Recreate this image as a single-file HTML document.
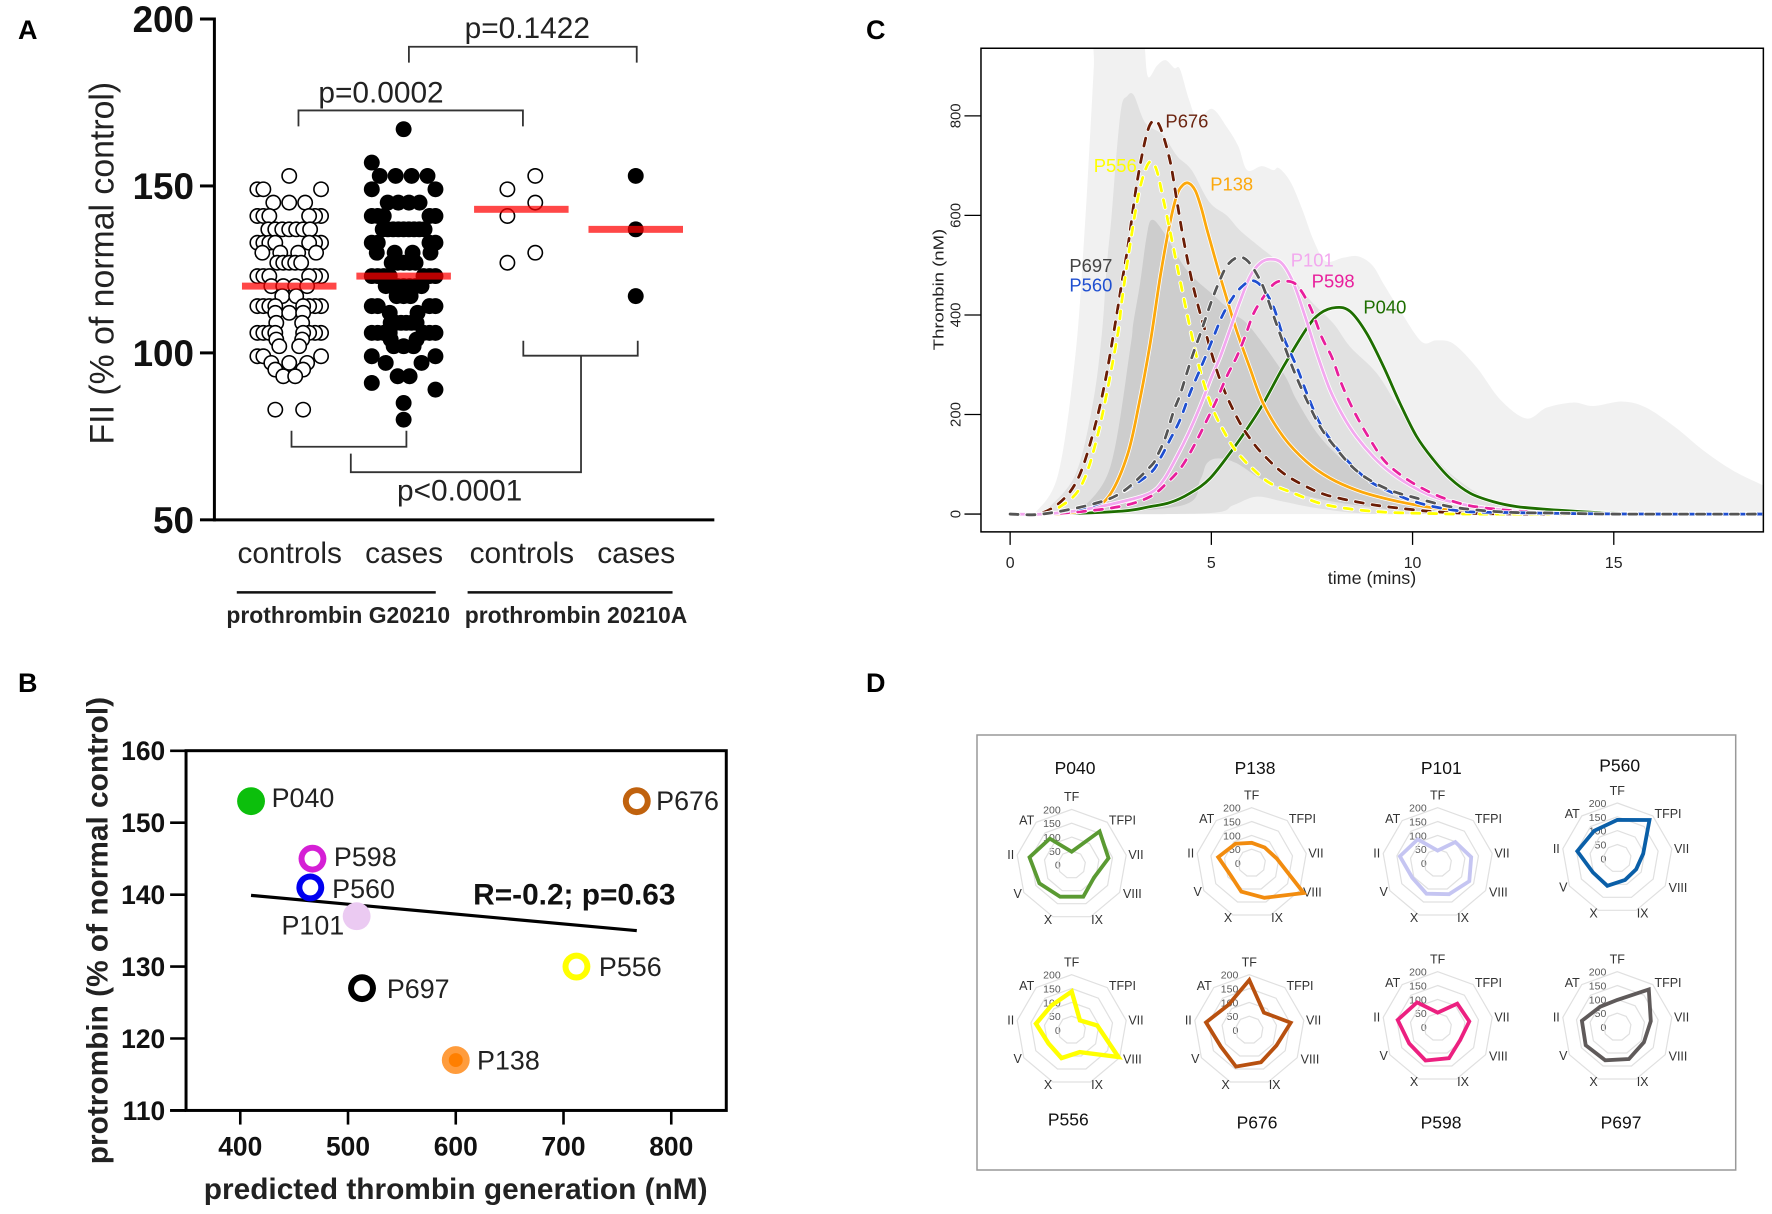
<!DOCTYPE html>
<html lang="en">
<head>
<meta charset="utf-8">
<title>Prothrombin and thrombin generation figure</title>
<style>
html,body{margin:0;padding:0;background:#fff;}
svg{display:block;font-family:"Liberation Sans",sans-serif;}
</style>
</head>
<body>
<svg id="figure" xmlns="http://www.w3.org/2000/svg" width="1772" height="1214" viewBox="0 0 1772 1214">
<rect width="1772" height="1214" fill="#fff"/>
<text x="18" y="39" font-size="27" font-weight="700">A</text>
<text x="18" y="692" font-size="27" font-weight="700">B</text>
<text x="866" y="39" font-size="27" font-weight="700">C</text>
<text x="866" y="692" font-size="27" font-weight="700">D</text>

<g id="panelA" transform="scale(0.9949)">
  <text transform="translate(114,264.5) rotate(-90)" text-anchor="middle" font-size="34" fill="#222">FII (% of normal control)</text>
  <g fill="none" stroke="#333" stroke-width="1.8">
    <path d="M411 63V47H640V63"/>
    <path d="M300 127V111H525.6V127"/>
    <path d="M526 342.5V357.5H641V342.5"/>
    <path d="M584 357.5V474.6H352.6V456"/>
    <path d="M293 433V449H408.5V433"/>
  </g>
  <text x="530" y="38" text-anchor="middle" font-size="30" fill="#222">p=0.1422</text>
  <text x="383" y="103" text-anchor="middle" font-size="30" fill="#222">p=0.0002</text>
  <text x="462" y="503" text-anchor="middle" font-size="30" fill="#222">p&lt;0.0001</text>
  <line x1="238" y1="595.4" x2="438" y2="595.4" stroke="#111" stroke-width="2.6"/>
  <line x1="470" y1="595.4" x2="676" y2="595.4" stroke="#111" stroke-width="2.6"/>
  <text x="340" y="626" text-anchor="middle" font-size="23" font-weight="700" fill="#222">prothrombin G20210</text>
  <text x="579" y="626" text-anchor="middle" font-size="23" font-weight="700" fill="#222">prothrombin 20210A</text>
</g>

<g id="panelB" transform="translate(0,650) scale(0.9949) translate(0,-650)">
  <text transform="translate(108,932) rotate(-90)" text-anchor="middle" font-size="30" font-weight="700" fill="#222">protrombin (% of normal control)</text>
  <text x="458" y="1202" text-anchor="middle" font-size="30" font-weight="700" fill="#222">predicted thrombin generation (nM)</text>
  <text x="475.6" y="906" font-size="30" font-weight="700" fill="#111">R=-0.2; p=0.63</text>
</g>

<g id="panelC" transform="translate(860,0) scale(0.9949) translate(-860,0)">
  <text transform="translate(944,291) rotate(-90)" text-anchor="middle" font-size="15" textLength="122" lengthAdjust="spacingAndGlyphs" fill="#222">Thrombin (nM)</text>
  <text x="1374.6" y="587" text-anchor="middle" font-size="18" fill="#222">time (mins)</text>
</g>

<g id="panelD">
  <rect x="977" y="735" width="758.7" height="435" fill="#fff" stroke="#999" stroke-width="1.5"/>
</g>
</svg>

<script>
/* ---------- Panel A data ---------- */
const swarmCategories = ['controls', 'cases', 'controls', 'cases'];
const controlsG20210 = [153,149,149,149,145,145,145,141,141,141,141,141,141,137,137,137,137,137,137,137,133,133,133,133,133,133,133,130,130,130,130,127,127,127,127,127,123,123,123,123,123,123,120,120,120,120,117,117,114,114,114,114,114,114,114,114,112,112,112,109,109,106,106,106,106,106,106,106,106,104,104,102,102,99,99,99,97,97,97,95,95,93,93,83,83];
const casesG20210 = [167,157,153,153,153,153,149,149,145,145,145,145,141,141,141,141,141,137,137,137,137,137,137,137,137,137,133,133,133,133,130,130,130,130,127,127,127,127,127,123,123,123,123,123,123,123,120,120,120,120,120,120,120,117,117,117,114,114,114,114,112,112,109,109,109,109,109,109,106,106,106,106,106,106,106,104,104,102,102,102,99,99,97,97,93,93,91,89,85,80];
const controls20210A = [153,149,145,141,130,127];
const cases20210A = [153,137,117];
const groupMedians = [120,123,143,137];
const yTicksA = [50,100,150,200];

/* ---------- Panel B data ---------- */
const patientNames = ['P040','P676','P598','P560','P101','P556','P697','P138'];
const predictedThrombin = [410,768,467,465,508,712,513,600];
const prothrombinLevel = [153,153,145,141,137,130,127,117];
const trendThrombin = [410,768];
const trendProthrombin = [139.9,135];
const yTicksB = [110,120,130,140,150,160];
const xTicksB = [400,500,600,700,800];

/* ---------- Panel C data ---------- */
const xTicksC = [0,5,10,15];
const yTicksC = [0,200,400,600,800];
const outerBandTime = [0.6,1.19,1.62,1.84,1.98,2.08,2.14,3.31,3.35,3.43,3.65,3.86,4.08,4.22,4.44,4.66,5.02,5.38,5.67,5.89,6.25,6.54,6.68,6.97,7.26,7.55,7.84,8.27,8.64,9.0,9.29,9.72,10.23,10.59,11.02,11.6,12.18,12.83,13.34,13.99,14.49,15.22,15.8,16.52,17.24,17.97,18.73];
const outerBandUpper = [0,79,318,556,750,900,1000,1000,936,878,901,912,896,894,834,794,814,778,739,691,699,691,695,667,612,548,508,515,518,500,461,405,346,349,342,294,230,192,214,224,217,226,214,175,127,87,57];
const midBandUpperTime = [0.9,1.62,2.05,2.28,2.4,2.52,2.65,2.77,2.9,3.07,3.36,3.79,4.15,4.51,4.95,5.38,5.71,6.2,6.79,7.45,8.03,8.45,9.11,9.69,10.35,10.93,11.76,12.6,13.63];
const midBandUpper = [8,79,220,363,497,598,731,820,839,842,786,762,719,691,627,600,570,537,497,430,383,336,283,209,135,82,35,8,2];
const midBandLowerTime = [2,4.95,5.55,6.13,6.79,7.62,8.86,10.73,13.63];
const midBandLower = [0,2,18,35,25,12,1,0,0];
const innerBandUpperTime = [1.76,2.49,2.98,3.06,3.23,3.39,3.52,3.81,4.39,5.05,5.55,5.96,6.79,7.12,7.7,8.45,9.28,10.1,10.73];
const innerBandUpper = [8,95,330,383,464,557,591,567,490,440,403,376,283,229,155,95,45,22,8];
const innerBandLowerTime = [1.76,4.3,4.72,4.89,5.18,5.63,6.29,7.12,8.03,9.28,10.1,10.73];
const innerBandLower = [0,18,68,102,112,102,68,42,25,11,5,8];

const timeP040 = [0,1,2.78,3.48,3.97,4.47,4.97,5.55,5.92,6.29,6.79,7.37,7.7,8.1,8.45,8.86,9.28,9.69,10.1,10.52,10.93,11.43,12.0,12.59,13.42,14.93,17,19];
const thrombinP040 = [0,0,6,15,23,42,72,132,175,222,296,373,403,415,407,363,296,222,156,109,72,42,25,15,9,2,0,0];
const timeP138 = [0,1.3,2.05,2.49,2.92,3.2,3.48,3.73,3.97,4.14,4.28,4.43,4.6,4.75,4.89,5.07,5.26,5.45,5.63,5.96,6.29,6.79,7.37,7.95,8.61,9.28,10.1,10.93,11.76,13.5,19];
const thrombinP138 = [0,1,12,40,120,220,343,477,584,640,660,665,650,615,572,520,466,415,368,293,222,155,105,72,48,32,18,8,3,0,0];
const timeP101 = [0,0.8,1.76,2.78,3.48,3.81,4.14,4.43,4.72,5.01,5.22,5.46,5.71,5.96,6.21,6.46,6.75,7.04,7.33,7.62,7.95,8.28,8.61,9.03,9.44,9.94,10.52,11.35,12.18,13.25,15,19];
const thrombinP101 = [0,0,8,25,42,68,115,162,216,276,316,370,427,477,504,512,504,464,397,323,249,196,155,115,85,58,35,18,9,1,0,0];
const timeP676 = [0,0.7,1.26,1.69,2.05,2.35,2.61,2.77,2.94,3.15,3.39,3.56,3.73,3.97,4.14,4.31,4.55,4.84,5.22,5.67,6.05,6.38,6.79,7.29,7.87,8.78,9.44,10.52,11.76,14,19];
const thrombinP676 = [0,0,25,72,159,262,382,462,545,665,762,790,777,711,631,551,457,370,269,189,142,112,82,58,38,22,14,5,1,0,0];
const timeP556 = [0,0.8,1.19,1.76,2.2,2.65,2.77,2.94,3.15,3.31,3.48,3.64,3.81,3.97,4.26,4.51,4.72,5.01,5.34,5.63,6.05,6.46,7.04,7.87,9.1,10.52,12,19];
const thrombinP556 = [0,0,12,56,167,350,425,520,625,680,708,691,631,570,455,360,289,216,162,125,89,62,42,18,5,1,0,0];
const timeP598 = [0,0.8,1.76,2.78,3.48,3.89,4.26,4.6,4.89,5.13,5.38,5.63,5.84,6.05,6.33,6.58,6.83,7.12,7.45,7.74,7.99,8.2,8.41,8.66,8.95,9.28,9.65,10.1,10.68,11.35,12.18,13.25,15,19];
const thrombinP598 = [0,0,5,16,35,62,95,142,189,229,276,316,357,403,440,464,468,460,417,356,316,269,229,189,149,109,82,58,35,18,9,3,0,0];
const timeP560 = [0,0.8,2.05,2.78,3.48,3.73,3.97,4.22,4.47,4.68,4.89,5.09,5.3,5.55,5.76,6.0,6.25,6.54,6.79,7.12,7.37,7.7,8.12,8.53,8.95,9.44,9.94,10.52,11.35,12.47,14,16,19];
const thrombinP560 = [0,0,17,44,82,112,149,189,243,283,323,363,403,437,457,469,457,417,356,296,243,182,132,95,65,45,28,15,5,3,1,0,0];
const timeP697 = [0,0.8,2.05,2.78,3.48,3.64,3.85,4.06,4.22,4.39,4.55,4.76,4.97,5.18,5.4,5.67,5.92,6.21,6.38,6.67,7.04,7.37,7.7,8.03,8.45,8.86,9.44,10.1,10.93,11.76,12.59,13.63,15,19];
const thrombinP697 = [0,0,20,44,95,115,152,206,239,283,323,370,420,464,500,516,507,470,437,370,290,229,176,139,99,72,48,32,15,7,3,2,0,0];

/* ---------- Panel D data (clockwise from TF) ---------- */
const radarAxes = ['TF','TFPI','VII','VIII','IX','X','V','II','AT'];
const radarScale = [0,50,100,150,200];
const radarP040 = [47,157,135,93,123,123,135,155,123];
const radarP138 = [73,73,92,217,134,110,88,123,91];
const radarP101 = [45,99,123,132,120,118,106,139,112];
const radarP560 = [139,181,95,79,83,106,102,147,130];
const radarP556 = [139,46,94,195,85,108,97,131,115];
const radarP676 = [181,82,152,113,124,141,119,159,118];
const radarP598 = [52,110,116,94,120,129,119,147,116];
const radarP697 = [98,177,123,111,123,128,132,130,96];

/* ---------- helpers ---------- */
const NS = 'http://www.w3.org/2000/svg';
function mk(tag, attrs, parent, text) {
  const el = document.createElementNS(NS, tag);
  for (const k in attrs) el.setAttribute(k, attrs[k]);
  if (text !== undefined) el.textContent = text;
  parent.appendChild(el);
  return el;
}
function smoothPath(pts) {
  let d = 'M' + pts[0][0].toFixed(2) + ' ' + pts[0][1].toFixed(2);
  for (let i = 0; i < pts.length - 1; i++) {
    const p0 = pts[Math.max(0, i - 1)], p1 = pts[i], p2 = pts[i + 1], p3 = pts[Math.min(pts.length - 1, i + 2)];
    const c1x = p1[0] + (p2[0] - p0[0]) / 6, c1y = p1[1] + (p2[1] - p0[1]) / 6;
    const c2x = p2[0] - (p3[0] - p1[0]) / 6, c2y = p2[1] - (p3[1] - p1[1]) / 6;
    d += 'C' + c1x.toFixed(2) + ' ' + c1y.toFixed(2) + ' ' + c2x.toFixed(2) + ' ' + c2y.toFixed(2) + ' ' + p2[0].toFixed(2) + ' ' + p2[1].toFixed(2);
  }
  return d;
}

/* ---------- Panel A ---------- */
(function () {
  const g = document.getElementById('panelA');
  const yA = v => 522.5 - (v - 50) * 3.356;
  const centers = [290.7, 405.7, 524, 639];
  const wideRows = new Set([157,149,141,133,123,114,106,99,91,89]);
  const evenHalf = {153:24,145:16,137:21,130:27,127:12,120:18,117:7,112:14,109:13,104:13,102:10,97:18,95:14,93:6,83:14};
  function swarm(values) {
    const out = [];
    const rows = [...new Set(values)].sort((a, b) => b - a);
    rows.forEach(v => {
      const n = values.filter(x => x === v).length;
      for (let i = 0; i < n; i++) {
        let dx;
        if (wideRows.has(v)) {
          if (n === 1) dx = v % 3 === 1 ? -32 : 32;
          else dx = (i % 2 ? 1 : -1) * (32 - Math.floor(i / 2) * 6);
        } else {
          const half = evenHalf[v] || 0;
          dx = n === 1 ? 0 : -half + 2 * half * i / (n - 1);
        }
        out.push([v, dx]);
      }
    });
    return out;
  }
  function alternate(values) {
    return [...values].sort((a, b) => b - a).map((v, i) => [v, i % 2 ? -14 : 14]);
  }
  const groups = [
    swarm(controlsG20210),
    swarm(casesG20210),
    alternate(controls20210A),
    cases20210A.map(v => [v, 0])
  ];
  groups.forEach((pts, gi) => {
    const open = gi % 2 === 0;
    pts.forEach(([v, dx]) => {
      const c = mk('circle', {cx: centers[gi] + dx, cy: yA(v), r: open ? 7.2 : 8, fill: open ? '#fff' : '#000', stroke: '#000', 'stroke-width': open ? 1.6 : 0}, g);
      
      
    });
  });
  groupMedians.forEach((v, i) => {
    const m = mk('rect', {x: centers[i] - 47.5, y: yA(v) - 3.5, width: 95, height: 7, fill: 'rgba(255,0,0,0.72)'}, g);
    
    
    const t = mk('text', {x: centers[i] + 0.5, y: 566, 'text-anchor': 'middle', 'font-size': 30, fill: '#222'}, g, swarmCategories[i]);
    
    
  });
  const yAxis = mk('line', {x1: 215.5, y1: yA(200) - 1.5, x2: 215.5, y2: yA(50) + 1.5, stroke: '#000', 'stroke-width': 3}, g);
  
  
  const xAxis = mk('line', {x1: 215, y1: yA(50), x2: 718, y2: yA(50), stroke: '#000', 'stroke-width': 3}, g);
  
  
  yTicksA.forEach(v => {
    const tick = mk('line', {x1: 201, y1: yA(v), x2: 215, y2: yA(v), stroke: '#000', 'stroke-width': 3}, g);
    
    
    const lab = mk('text', {x: 195, y: yA(v) + 13, 'text-anchor': 'end', 'font-size': 37, 'font-weight': 700, fill: '#111'}, g, String(v));
    
    
  });
})();

/* ---------- Panel B ---------- */
(function () {
  const g = document.getElementById('panelB');
  const xB = v => 241.5 + (v - 400) * 1.083;
  const yB = v => 1112.8 - (v - 110) * 7.23;
  const looks = {
    P040: {fill: '#0cbf0c', hole: null, dx: 20.7, dy: 6},
    P676: {fill: '#c0620e', hole: '#fff', dx: 19.5, dy: 9},
    P598: {fill: '#d51fd5', hole: '#fff', dx: 21.6, dy: 7.3},
    P560: {fill: '#0000f0', hole: '#fff', dx: 22, dy: 10.4},
    P101: {fill: '#ebcaf2', hole: null, dx: -75.5, dy: 18.5},
    P556: {fill: '#ffff00', hole: '#fff', dx: 22.6, dy: 9.4},
    P697: {fill: '#000000', hole: '#fff', dx: 25, dy: 10},
    P138: {fill: '#ff9c3c', hole: '#ff7f00', dx: 21.4, dy: 9.5}
  };
  const frame = mk('rect', {x: 187, y: 751.2, width: 543, height: 361.6, fill: 'none', stroke: '#000', 'stroke-width': 3}, g);
  
  
  const base = mk('line', {x1: 171, y1: 1112.8, x2: 187, y2: 1112.8, stroke: '#000', 'stroke-width': 3}, g);
  
  
  yTicksB.forEach(v => {
    const tick = mk('line', {x1: 171, y1: yB(v), x2: 187, y2: yB(v), stroke: '#000', 'stroke-width': 2.6}, g);
    
    
    const lab = mk('text', {x: 166, y: yB(v) + 9.5, 'text-anchor': 'end', 'font-size': 26.5, 'font-weight': 700, fill: '#111'}, g, String(v));
    
    
  });
  xTicksB.forEach(v => {
    const tick = mk('line', {x1: xB(v), y1: 1112.8, x2: xB(v), y2: 1127, stroke: '#000', 'stroke-width': 2.6}, g);
    
    
    const lab = mk('text', {x: xB(v), y: 1158, 'text-anchor': 'middle', 'font-size': 26.5, 'font-weight': 700, fill: '#111'}, g, String(v));
    
    
  });
  const trend = mk('line', {x1: xB(trendThrombin[0]), y1: yB(trendProthrombin[0]), x2: xB(trendThrombin[1]), y2: yB(trendProthrombin[1]), stroke: '#000', 'stroke-width': 3.2}, g);
  
  
  patientNames.forEach((name, i) => {
    const s = looks[name], cx = xB(predictedThrombin[i]), cy = yB(prothrombinLevel[i]);
    const dot = mk('circle', {cx: cx, cy: cy, r: 14, fill: s.fill}, g);
    
    
    if (s.hole) {
      const hole = mk('circle', {cx: cx, cy: cy, r: name === 'P138' ? 7 : 8, fill: s.hole}, g);
      
      
    }
    const lab = mk('text', {x: cx + s.dx, y: cy + s.dy, 'font-size': 27, fill: '#222'}, g, name);
    
    
  });
})();

/* ---------- Panel C ---------- */
(function () {
  const g = document.getElementById('panelC');
  const xC = t => 1010.9 + t * 40.45;
  const yC = v => 516.7 - v * 0.5003;
  const defs = mk('defs', {}, g);
  const clip = mk('clipPath', {id: 'clipC'}, defs);
  mk('rect', {x: 981.6, y: 48.5, width: 786.4, height: 486.1}, clip);
  const plot = mk('g', {'clip-path': 'url(#clipC)'}, g);
  
  

  function band(upT, upV, loT, loV, fill, name) {
    const upper = upT.map((t, i) => [xC(t), yC(upV[i])]);
    const lower = loT.map((t, i) => [xC(t), yC(loV[i])]).reverse();
    const d = smoothPath(upper) + 'L' + smoothPath(lower).slice(1) + 'Z';
    const p = mk('path', {d: d, fill: fill}, plot);
    
    
  }
  band(outerBandTime, outerBandUpper, [0.6, 18.73], [0, 0], '#f1f1f1', 'range-band-outer');
  band(midBandUpperTime, midBandUpper, midBandLowerTime, midBandLower, '#e1e1e1', 'range-band-middle');
  band(innerBandUpperTime, innerBandUpper, innerBandLowerTime, innerBandLower, '#cdcdcd', 'range-band-inner');

  const curves = [
    ['P040', timeP040, thrombinP040, '#1e6e00', false],
    ['P138', timeP138, thrombinP138, '#fca80c', false],
    ['P101', timeP101, thrombinP101, '#f3a8ef', false],
    ['P676', timeP676, thrombinP676, '#6b1d06', true],
    ['P556', timeP556, thrombinP556, '#ffff00', true],
    ['P598', timeP598, thrombinP598, '#e81f9c', true],
    ['P560', timeP560, thrombinP560, '#1f4fd0', true],
    ['P697', timeP697, thrombinP697, '#555555', true]
  ];
  curves.forEach(([name, ts, vs, color, dashed]) => {
    const pts = ts.map((t, i) => [xC(t), yC(vs[i])]);
    const d = smoothPath(pts);
    const halo = {d: d, fill: 'none', stroke: '#fff', 'stroke-width': 4.4};
    const attrs = {d: d, fill: 'none', stroke: color, 'stroke-width': 2.8};
    if (dashed) {
      halo['stroke-dasharray'] = '8 9';
      halo['stroke-linecap'] = 'round';
      attrs['stroke-dasharray'] = '8 9';
      attrs['stroke-linecap'] = 'round';
    }
    const h = mk('path', halo, plot);
    
    
    const p = mk('path', attrs, plot);
    
    
  });

  const frame = mk('rect', {x: 981.6, y: 48.5, width: 786.4, height: 486.1, fill: 'none', stroke: '#000', 'stroke-width': 1.5}, g);
  
  
  xTicksC.forEach(v => {
    const tick = mk('line', {x1: xC(v), y1: 534.6, x2: xC(v), y2: 547.7, stroke: '#000', 'stroke-width': 1.3}, g);
    
    
    const lab = mk('text', {x: xC(v), y: 571, 'text-anchor': 'middle', 'font-size': 16, fill: '#222'}, g, String(v));
    
    
  });
  yTicksC.forEach(v => {
    const tick = mk('line', {x1: 965, y1: yC(v), x2: 981.6, y2: yC(v), stroke: '#000', 'stroke-width': 1.3}, g);
    
    
    const lab = mk('text', {transform: 'translate(961,' + yC(v) + ') rotate(-90)', 'text-anchor': 'middle', 'font-size': 15, fill: '#222'}, g, String(v));
    
    
  });
  const labels = [
    ['P676', 1167, 128, '#6b2410'], ['P556', 1095, 173, '#ffff00'], ['P138', 1212, 191.6, '#fca80c'],
    ['P697', 1070.5, 273.5, '#444444'], ['P560', 1070.5, 293, '#1f4fd0'], ['P101', 1293, 268, '#f3a8ef'],
    ['P598', 1314, 289, '#e81f9c'], ['P040', 1366, 315, '#1e6e00']
  ];
  labels.forEach(([name, x, y, color]) => {
    const t = mk('text', {x: x, y: y, 'font-size': 18.5, fill: color}, g, name);
    
    
  });
})();

/* ---------- Panel D ---------- */
(function () {
  const g = document.getElementById('panelD');
  const R = 55.3;
  const labelOffsets = [[0,-68],[50.7,-44.7],[64.3,-10],[60.7,29],[25.3,54.7],[-23.7,54.7],[-54,28.7],[-61,-10],[-45,-44.7]];
  const charts = [
    ['P040', radarP040, 1071.7, 864.7, 1075, 774, '#5a9a32'],
    ['P138', radarP138, 1251.7, 863, 1255, 774, '#f28c0f'],
    ['P101', radarP101, 1437.7, 863, 1441.3, 774, '#c5c5f2'],
    ['P560', radarP560, 1617.3, 858.3, 1619.7, 771.7, '#0a5fa8'],
    ['P556', radarP556, 1071.7, 1030, 1068.3, 1125.7, '#ffff00'],
    ['P676', radarP676, 1249.3, 1030, 1257, 1128.3, '#b8500f'],
    ['P598', radarP598, 1437.7, 1027, 1441, 1128.3, '#ec2080'],
    ['P697', radarP697, 1617.3, 1027, 1621, 1128.3, '#5f5a5a']
  ];
  const rad = (r, i, cx, cy) => {
    const a = i * 2 * Math.PI / radarAxes.length;
    return [cx + r * Math.sin(a), cy - r * Math.cos(a)];
  };
  charts.forEach(([name, values, cx, cy, tx, ty, color]) => {
    const title = mk('text', {x: tx, y: ty, 'text-anchor': 'middle', 'font-size': 17.5, fill: '#111'}, g, name);
    
    
    radarScale.forEach(s => {
      if (s > 0) {
        const pts = radarAxes.map((_, i) => rad(s / 200 * R, i, cx, cy).map(n => n.toFixed(1)).join(',')).join(' ');
        const ring = mk('polygon', {points: pts, fill: 'none', stroke: '#e0e0e0', 'stroke-width': 1.2}, g);
        
        
      }
      const lab = mk('text', {x: cx - 11, y: cy - s / 200 * R + 4, 'text-anchor': 'end', 'font-size': 10.5, fill: '#595959'}, g, String(s));
      
      
    });
    radarAxes.forEach((a, i) => {
      const lab = mk('text', {x: cx + labelOffsets[i][0], y: cy + labelOffsets[i][1] + 4.5, 'text-anchor': 'middle', 'font-size': 12.5, fill: '#333'}, g, a);
      
      
    });
    const pts = values.map((v, i) => rad(v / 200 * R, i, cx, cy).map(n => n.toFixed(1)).join(',')).join(' ');
    const poly = mk('polygon', {points: pts, fill: 'none', stroke: color, 'stroke-width': name === 'P556' ? 4.4 : 3.8, 'stroke-linejoin': 'miter'}, g);
    
    
  });
})();
</script>
</body>
</html>
